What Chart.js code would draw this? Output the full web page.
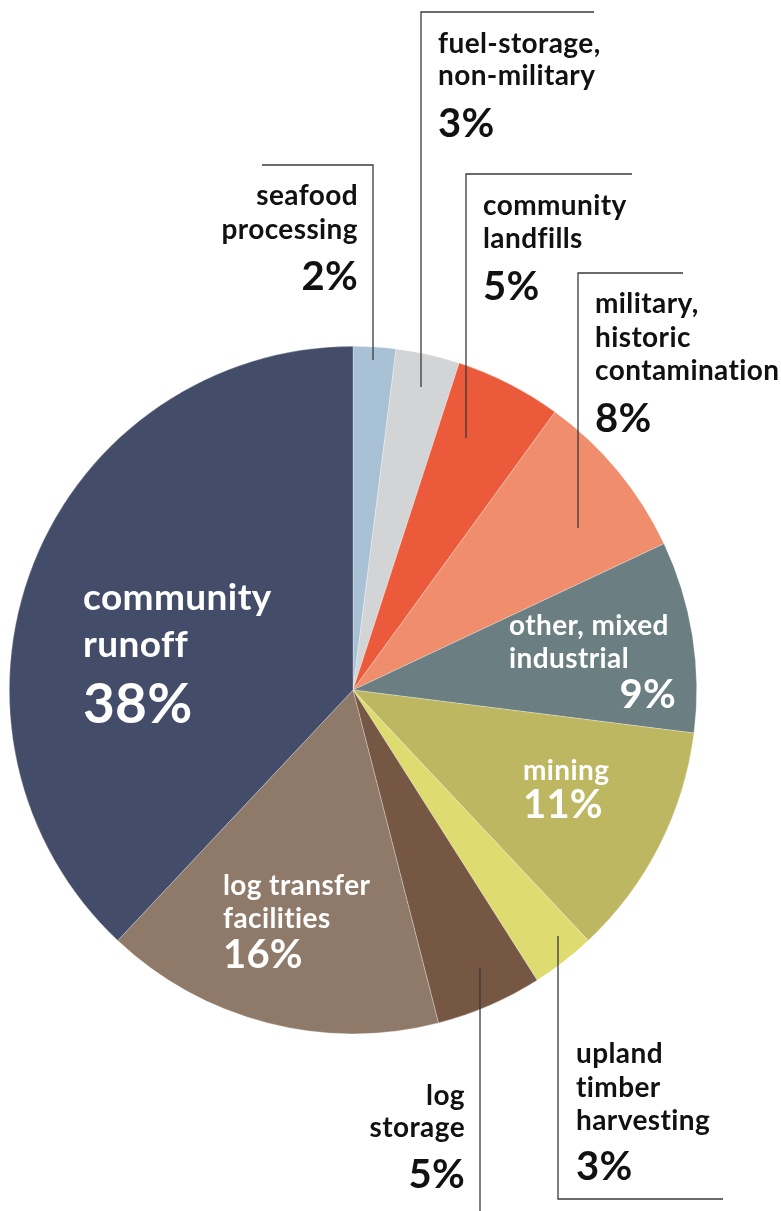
<!DOCTYPE html>
<html>
<head>
<meta charset="utf-8">
<script src="https://cdn.jsdelivr.net/npm/chart.js@4.4.1/dist/chart.umd.min.js"></script>
<style>
  html, body { margin: 0; padding: 0; background: #ffffff; }
  #wrap { position: relative; width: 781px; height: 1211px; }
</style>
</head>
<body>
<div id="wrap"><canvas id="c"></canvas></div>
<script>
// ---- data ----
const categories = [
  "seafood processing",
  "fuel-storage, non-military",
  "community landfills",
  "military, historic contamination",
  "other, mixed industrial",
  "mining",
  "upland timber harvesting",
  "log storage",
  "log transfer facilities",
  "community runoff"
];
const shares = [2, 3, 5, 8, 9, 11, 3, 5, 16, 38];
const labelLines = [
  ["seafood", "processing"],
  ["fuel-storage,", "non-military"],
  ["community", "landfills"],
  ["military,", "historic", "contamination"],
  ["other, mixed", "industrial"],
  ["mining"],
  ["upland", "timber", "harvesting"],
  ["log", "storage"],
  ["log transfer", "facilities"],
  ["community", "runoff"]
];
const sliceColors = [
  "#a9c1d5", "#d3d4d6", "#eb5b3b", "#ef8d6c", "#6b7f83",
  "#bdb762", "#dedb70", "#765744", "#8f7a6a", "#434c68"
];

// ---- label layout (annotation placement only) ----
const FONT = "Lato, 'Noto Sans', sans-serif";
const labelLayout = [
  { align: "right", x: 358, base: [205, 239], pctBase: 290, color: "#111", size: 28, pctSize: 40,
    leader: [[262,165],[373,165],[373,360]] },
  { align: "left", x: 438, base: [53, 85], pctBase: 137, color: "#111", size: 28, pctSize: 40,
    leader: [[594,12],[421,12],[421,387]] },
  { align: "left", x: 483, base: [215, 248], pctBase: 300, color: "#111", size: 28, pctSize: 40,
    leader: [[632,174],[466,174],[466,438]] },
  { align: "left", x: 595, base: [313, 347, 380], pctBase: 432, color: "#111", size: 28, pctSize: 40,
    leader: [[683,273],[578,273],[578,528]] },
  { align: "left", x: 509, base: [635, 668], pctBase: 708, pctAlign: "right", pctX: 676, color: "#fff", size: 28, pctSize: 40 },
  { align: "left", x: 523, base: [780], pctBase: 818, color: "#fff", size: 28, pctSize: 40 },
  { align: "left", x: 576, base: [1063, 1097, 1130], pctBase: 1180, color: "#111", size: 28, pctSize: 40,
    leader: [[558,936],[558,1199],[723,1199]] },
  { align: "right", x: 465, base: [1105, 1137], pctBase: 1188, color: "#111", size: 28, pctSize: 40,
    leader: [[480,968],[480,1211]] },
  { align: "left", x: 223, base: [895, 928], pctBase: 968, color: "#fff", size: 28, pctSize: 40 },
  { align: "left", x: 83, base: [610, 657], pctBase: 723, color: "#fff", size: 37, pctSize: 55 }
];

const labelPlugin = {
  id: "sliceLabels",
  afterDraw(chart) {
    const ctx = chart.ctx;
    ctx.save();
    // leader lines
    ctx.strokeStyle = "#3a3a3a";
    ctx.lineWidth = 1.3;
    labelLayout.forEach(l => {
      if (!l.leader) return;
      ctx.beginPath();
      l.leader.forEach((p, i) => i ? ctx.lineTo(p[0], p[1]) : ctx.moveTo(p[0], p[1]));
      ctx.stroke();
    });
    // texts
    ctx.textBaseline = "alphabetic";
    labelLayout.forEach((l, i) => {
      ctx.fillStyle = l.color;
      ctx.textAlign = l.align;
      ctx.font = "bold " + l.size + "px " + FONT;
      ctx.letterSpacing = "0.4px";
      labelLines[i].forEach((t, j) => ctx.fillText(t, l.x, l.base[j]));
      ctx.font = "bold " + l.pctSize + "px " + FONT;
      ctx.letterSpacing = "0.2px";
      ctx.textAlign = l.pctAlign || l.align;
      ctx.fillText(shares[i] + "%", l.pctX || l.x, l.pctBase);
    });
    ctx.restore();
  }
};

new Chart(document.getElementById("c"), {
  type: "pie",
  data: {
    labels: categories,
    datasets: [{
      data: shares,
      backgroundColor: sliceColors,
      borderWidth: 0.6,
      borderColor: "rgba(255,255,255,0.45)"
    }]
  },
  options: {
    responsive: true,
    maintainAspectRatio: false,
    animation: false,
    layout: { padding: { left: 9, right: 84, top: 346, bottom: 177 } },
    plugins: { legend: { display: false }, tooltip: { enabled: false } }
  },
  plugins: [labelPlugin]
});
</script>
</body>
</html>
